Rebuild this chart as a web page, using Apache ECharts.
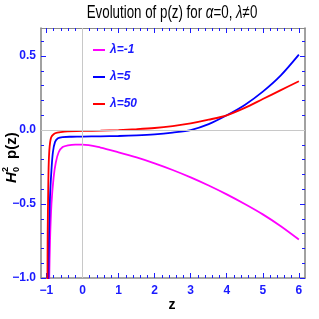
<!DOCTYPE html>
<html>
<head>
<meta charset="utf-8">
<script src="https://cdn.jsdelivr.net/npm/echarts@6/dist/echarts.min.js"></script>
<style>html,body{margin:0;padding:0;background:#fff}#c{width:319px;height:319px}</style>
</head>
<body>
<div id="c"></div>
<script>
const seriesNames = ['λ=-1', 'λ=5', 'λ=50'];
const lambdaM1 = [[-0.925,-1.05],[-0.9,-0.75],[-0.86,-0.5],[-0.8,-0.32],[-0.74,-0.22],[-0.66,-0.15],[-0.55,-0.115],[-0.4,-0.103],[-0.2,-0.098],[0,-0.098],[0.5,-0.118],[1,-0.15],[1.5,-0.185],[2,-0.225],[2.5,-0.27],[3,-0.32],[3.5,-0.375],[4,-0.435],[4.5,-0.5],[5,-0.57],[5.5,-0.65],[6,-0.74]];
const lambda5 = [[-0.945,-1.05],[-0.93,-0.75],[-0.9,-0.45],[-0.86,-0.27],[-0.82,-0.15],[-0.76,-0.08],[-0.68,-0.055],[-0.55,-0.047],[-0.3,-0.045],[0,-0.044],[0.5,-0.042],[1,-0.04],[1.5,-0.036],[2,-0.029],[2.5,-0.017],[3,0.0],[3.5,0.04],[4,0.10],[4.5,0.17],[5,0.26],[5.5,0.37],[6,0.51]];
const lambda50 = [[-0.972,-1.05],[-0.965,-0.7],[-0.95,-0.4],[-0.935,-0.22],[-0.91,-0.11],[-0.87,-0.05],[-0.8,-0.028],[-0.7,-0.018],[-0.5,-0.011],[0,-0.006],[0.5,-0.004],[1,0.0],[1.5,0.006],[2,0.014],[2.5,0.027],[3,0.045],[3.5,0.07],[4,0.10],[4.5,0.15],[5,0.21],[5.5,0.27],[6,0.33]];
const xTicks = [-1,0,1,2,3,4,5,6];
const yTicks = [-1.0,-0.5,0.0,0.5];
const XMIN = -1.15, XMAX = 6.17, YMIN = -1.0, YMAX = 0.69;

const xMinor = []; for (let i = -6; i <= 31; i++) { const v = +(i*0.2).toFixed(2); if (v >= XMIN && v <= XMAX) xMinor.push(v); }
const yMinor = []; for (let i = -10; i <= 6; i++) yMinor.push(+(i*0.1).toFixed(2));

const TICK = '#1a1aff';
const FRAME = '#8a8a8a';
const lblStyle = {color: TICK, fontWeight: 'bold', fontSize: 12, fontFamily: 'Liberation Sans Narrow, Liberation Sans, Arial, sans-serif'};
const fmtMinus = v => String(v).replace('-', '−');

function xAx(pos, vals, len, line, label) {
  return {type:'value', position:pos, min:XMIN, max:XMAX, gridIndex:0,
    axisLine:{show:line, onZero:false, lineStyle:{color:FRAME, width: pos==='top'?1:1.6}},
    axisTick:{show:true, inside:true, length:len, customValues: vals, lineStyle:{color:TICK, width:1}},
    axisLabel: label ? Object.assign({show:true, customValues: xTicks, margin:7, formatter: v => fmtMinus(v)}, lblStyle) : {show:false},
    splitLine:{show:false}};
}
function yAx(pos, vals, len, line, label) {
  return {type:'value', position:pos, min:YMIN, max:YMAX, gridIndex:0,
    axisLine:{show:line, onZero:false, lineStyle:{color:FRAME, width:1.6}},
    axisTick:{show:true, inside:true, length:len, customValues: vals, lineStyle:{color:TICK, width:1}},
    axisLabel: label ? Object.assign({show:true, customValues: yTicks, margin:5, formatter: v => fmtMinus(v.toFixed(1))}, lblStyle) : {show:false},
    splitLine:{show:false}};
}

const chart = echarts.init(document.getElementById('c'));
const lineBase = {type:'line', showSymbol:false, symbol:'none', smooth:0.3, clip:true, xAxisIndex:0, yAxisIndex:0};
const FF = 'Liberation Sans, Arial, sans-serif';
chart.setOption({
  animation:false,
  grid:{left:41, right:14, top:28, bottom:41},
  xAxis:[xAx('bottom', xTicks, 5, true, true), xAx('bottom', xMinor, 3, false, false), xAx('top', xTicks, 5, true, false), xAx('top', xMinor, 3, false, false)],
  yAxis:[yAx('left', yTicks, 5, true, true), yAx('left', yMinor, 3, false, false), yAx('right', yTicks, 5, true, false), yAx('right', yMinor, 3, false, false)],
  legend:{orient:'vertical', left:88, top:38, itemWidth:12, itemHeight:2, itemGap:13, icon:'rect',
    textStyle:{color:'#1a1aff', fontWeight:'bold', fontStyle:'italic', fontSize:12, lineHeight:14, fontFamily:FF},
    data: seriesNames},
  series:[
    Object.assign({}, lineBase, {name:seriesNames[0], data:lambdaM1, lineStyle:{color:'#ff00ff', width:1.8}, itemStyle:{color:'#ff00ff'},
      markLine:{silent:true, symbol:'none', label:{show:false}, lineStyle:{color:'#c8c8c8', width:1, type:'solid'}, data:[{xAxis:0},{yAxis:0}], animation:false}, z:2}),
    Object.assign({}, lineBase, {name:seriesNames[1], data:lambda5, lineStyle:{color:'#0000ff', width:1.8}, itemStyle:{color:'#0000ff'}, z:3}),
    Object.assign({}, lineBase, {name:seriesNames[2], data:lambda50, lineStyle:{color:'#ff0000', width:1.8}, itemStyle:{color:'#ff0000'}, z:4})
  ],
  graphic:[
    {type:'group', x:172, y:13, scaleX:0.74, children:[
      {type:'text', x:0, y:0, style:{
        text:'{n|Evolution of p(z) for }{i|α}{n|=0, }{i|λ}{n|≠0}', align:'center', verticalAlign:'middle',
        rich:{n:{fontSize:18, fontFamily:FF, fill:'#000'},
              i:{fontSize:18, fontStyle:'italic', fontFamily:FF, fill:'#000'}}}}]},
    {type:'text', x:172, y:305, style:{text:'z', fontSize:14, fontWeight:'bold', fill:'#000', align:'center', verticalAlign:'middle', fontFamily:FF}},
    {type:'group', x:12, y:148, rotation:Math.PI/2, children:[
      {type:'text', x:-35, y:0, style:{text:'H', fontSize:15, fontWeight:'bold', fontStyle:'italic', fill:'#000', align:'left', verticalAlign:'middle', fontFamily:FF}},
      {type:'text', x:-24, y:-6, style:{text:'2', fontSize:9, fontWeight:'bold', fill:'#000', align:'left', verticalAlign:'middle', fontFamily:FF}},
      {type:'text', x:-24, y:5, style:{text:'0', fontSize:9, fontWeight:'bold', fill:'#000', align:'left', verticalAlign:'middle', fontFamily:FF}},
      {type:'text', x:-11, y:0, style:{text:'p(z)', fontSize:15, fontWeight:'bold', fill:'#000', align:'left', verticalAlign:'middle', fontFamily:FF}}
    ]}
  ]
});
</script>
</body>
</html>
